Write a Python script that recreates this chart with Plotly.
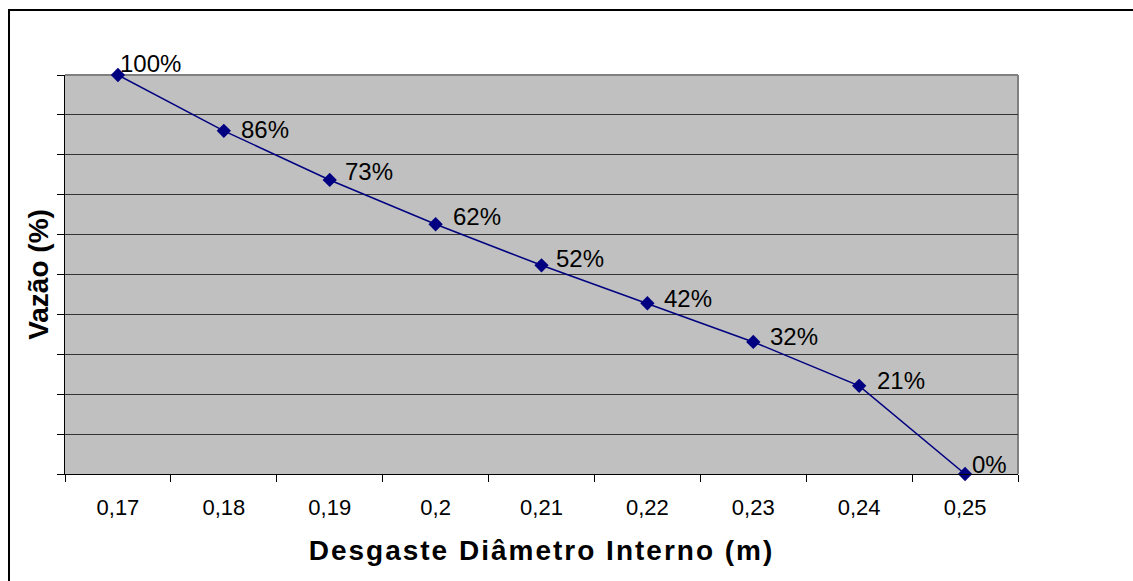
import plotly.graph_objects as go

# ---- data ----
diametro = [0.17, 0.18, 0.19, 0.20, 0.21, 0.22, 0.23, 0.24, 0.25]
tick_labels = ["0,17", "0,18", "0,19", "0,2", "0,21", "0,22", "0,23", "0,24", "0,25"]
vazao = [100, 86, 73.7, 62.6, 52.3, 42.8, 33.1, 22.1, 0]
rotulos = ["100%", "86%", "73%", "62%", "52%", "42%", "32%", "21%", "0%"]

# label offsets (pixels) - styling only
label_dx = [0, 15, 13, 15, 12, 15, 15, 16, 5]
label_dy = [12, 1, 8, 8, 7, 5, 5, 5, 10]

W, H = 1133, 581
ML, MR, MT, MB = 65, 115, 75, 107
FONT = "Liberation Sans, Arial, sans-serif"
NAVY = "#000080"

fig = go.Figure()
fig.add_trace(go.Scatter(
    x=tick_labels, y=vazao, mode="lines+markers",
    line=dict(color=NAVY, width=1.5),
    marker=dict(symbol="diamond", size=11, color=NAVY),
    cliponaxis=False,
    hoverinfo="skip", showlegend=False,
))

for lab, xv, yv, dx, dy in zip(rotulos, tick_labels, vazao, label_dx, label_dy):
    fig.add_annotation(
        x=xv, y=yv, text=lab, showarrow=False,
        xanchor="left", yanchor="middle", xshift=dx, yshift=dy,
        font=dict(family=FONT, size=24, color="black"),
    )

pw = W - ML - MR
ph = H - MT - MB
# figure border (extends beyond right/bottom edges)
bx0 = (9 - ML) / pw
by1 = 1 + (MT - 10) / ph
fig.add_shape(type="rect", xref="paper", yref="paper",
              x0=bx0, x1=1 + (MR + 20) / pw, y0=-(MB + 20) / ph, y1=by1,
              line=dict(color="black", width=2), layer="above")
# plot area top / right border
fig.add_shape(type="line", xref="paper", yref="paper", x0=0, x1=1, y0=1, y1=1,
              line=dict(color="#808080", width=2), layer="below")
fig.add_shape(type="line", xref="paper", yref="paper", x0=1, x1=1, y0=0, y1=1,
              line=dict(color="#808080", width=2), layer="below")

fig.update_layout(
    width=W, height=H,
    margin=dict(l=ML, r=MR, t=MT, b=MB, autoexpand=False),
    paper_bgcolor="white", plot_bgcolor="#C0C0C0",
    font=dict(family=FONT, color="black"),
    xaxis=dict(
        type="category", range=[-0.5, 8.5], tickson="boundaries",
        ticks="outside", ticklen=7, tickcolor="black", tickwidth=1,
        showline=True, linecolor="black", linewidth=1,
        showgrid=False, zeroline=False,
        tickfont=dict(family=FONT, size=22, color="black"),
        ticklabelstandoff=14,
        title=dict(text="Desgaste Diâmetro Interno (m)", standoff=20,
                   font=dict(family=FONT, size=28, color="black", weight="bold")),
        automargin=False, fixedrange=True,
    ),
    yaxis=dict(
        range=[0, 100], dtick=10, tick0=0,
        ticks="outside", ticklen=7, tickcolor="black", tickwidth=1,
        showticklabels=False,
        showline=True, linecolor="black", linewidth=1,
        showgrid=True, gridcolor="#333333", gridwidth=1, zeroline=False,
        title=dict(text="Vazão (%)", standoff=0,
                   font=dict(family=FONT, size=28, color="black", weight="bold")),
        automargin=False, fixedrange=True,
    ),
)

post = """
document.body.style.margin='0';
document.body.style.overflow='hidden';
document.querySelectorAll('.xtitle').forEach(function(t){ t.style.letterSpacing='2px'; });
"""
fig.write_html("out.html", post_script=post, config={"displayModeBar": False})
